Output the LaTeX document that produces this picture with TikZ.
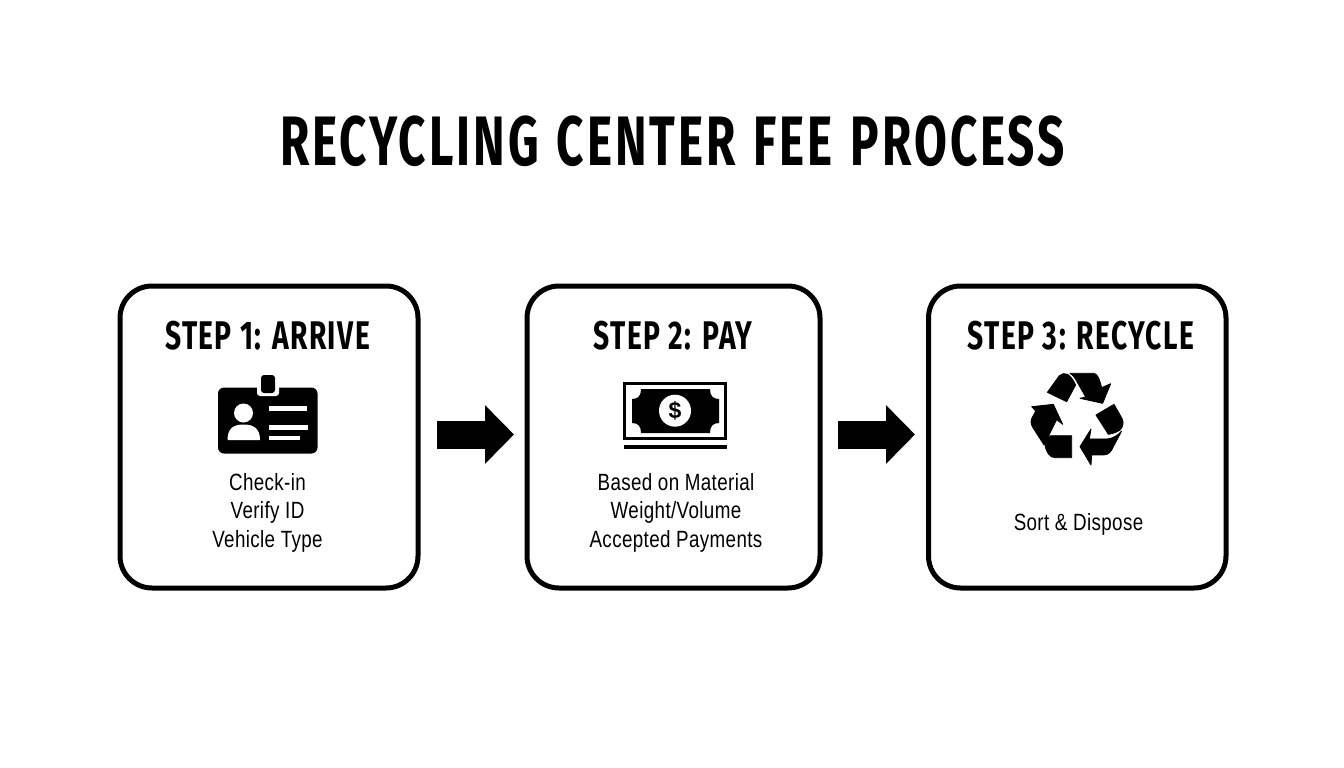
\documentclass[tikz,border=0pt]{standalone}
\usepackage{fontspec}
\setmainfont{Liberation Sans}
\newfontfamily\titlefont[FakeStretch=0.68,LetterSpace=4.3,WordSpace=1.25,UprightFont=* Bold]{Fira Sans}
\newfontfamily\stepfont[FakeStretch=0.705,LetterSpace=3.6,UprightFont=* Bold]{Fira Sans}
\newfontfamily\bodyfont[FakeStretch=0.80,LetterSpace=1.6]{Liberation Sans}
\usetikzlibrary{arrows.meta}
\tikzset{
  procbox/.style={draw=black,line width=5pt,rounded corners=32pt,fill=white,inner sep=0pt,outer sep=0pt,anchor=north west},
  maintitle/.style={font=\titlefont\fontsize{70}{70}\selectfont,inner sep=0pt,text=black},
  steptitle/.style={font=\stepfont\fontsize{40}{40}\selectfont,inner sep=0pt,text=black},
  bodytext/.style={font=\bodyfont\fontsize{23.5}{28.5}\selectfont,inner sep=0pt,align=center,text=black},
  flow/.style={line width=28pt,-{Triangle[length=29pt,width=57pt]},black},
  ink/.style={fill=black,draw=none},
  loop/.style={fill=black,draw=black,line width=0.8pt,line join=round},
  paper/.style={fill=white,draw=none}
}
\begin{document}
\begin{tikzpicture}[x=1pt,y=-1pt]
\useasboundingbox (0,0) rectangle (1344,768);
\fill[white] (0,0) rectangle (1344,768);
\node[maintitle] (title) at (672.5,141) {RECYCLING CENTER FEE PROCESS};
\node[procbox,minimum width=298pt,minimum height=302pt] (box1) at (120,286) {};
\node[procbox,minimum width=293pt,minimum height=302pt] (box2) at (527,286) {};
\node[procbox,minimum width=297.5pt,minimum height=302pt] (box3) at (928.5,286) {};
\node[steptitle] (s1) at (267.5,336) {STEP 1: ARRIVE};
\node[steptitle] (s2) at (673,336) {STEP 2: PAY};
\node[steptitle] (s3) at (1081,336) {STEP 3: RECYCLE};
\node[bodytext] (b1) at (267.5,512.5) {Check-in\\Verify ID\\Vehicle Type};
\node[bodytext] (b2) at (676,512.5) {Based on Material\\Weight/Volume\\Accepted Payments};
\node[bodytext] (b3) at (1078.5,524) {Sort \& Dispose};
\coordinate (a1s) at (437,434.5);
\coordinate (a1e) at (514,434.5);
\coordinate (a2s) at (838,434.5);
\coordinate (a2e) at (915,434.5);
\draw[flow] (a1s) -- (a1e);
\draw[flow] (a2s) -- (a2e);
% ID badge icon
\fill[ink,rounded corners=6pt] (218,387.5) rectangle (317.5,453.5);
\fill[paper,rounded corners=3pt] (257,380) rectangle (279,396);
\fill[ink,rounded corners=3pt] (261,375) rectangle (275,393);
\fill[paper] (243.5,413) circle (9.5);
\fill[paper] (227.5,440) .. controls (227.5,428) and (234,424.5) .. (243.5,424.5) .. controls (253,424.5) and (260,428) .. (260,440) -- cycle;
\fill[paper] (268.5,406) rectangle (307,410.5);
\fill[paper] (269,425) rectangle (307.5,429.5);
\fill[paper] (269,436) rectangle (300,440);
% money icon
\draw[black,line width=3.2pt] (624.6,383.6) rectangle (725.4,438.4);
\fill[ink] (623.5,445) rectangle (726.5,449);
\fill[ink] (641,389) -- (710,389) .. controls (710,396) and (713,399) .. (719,399)
  -- (719,423) .. controls (713,423) and (710,426) .. (710,433) -- (641,433)
  .. controls (641,426) and (638,423) .. (632,423) -- (632,399)
  .. controls (638,399) and (641,396) .. (641,389) -- cycle;
\fill[paper] (675,410.7) circle (16);
\node[font=\fontsize{23}{23}\selectfont\bfseries,inner sep=0pt] (dollar) at (675,410.5) {\$};
% recycling icon
\begin{scope}[shift={(1020,365)},x=0.3333pt,y=-0.3333pt]
\path[loop] (82,82) -- (118,32) .. controls (125,25) and (135,24) .. (143,28) .. controls (152,34) and (160,45) .. (167,60) -- (140,110) -- cycle;
\path[loop] (150,25) -- (222,25) .. controls (232,27) and (238,40) .. (245,68) -- (272,56) -- (248,115) -- (180,100) -- (197,96) -- (172,52) .. controls (165,38) and (158,30) .. (150,25) -- cycle;
\path[loop] (35,125) -- (100,118) -- (128,178) -- (110,164) -- (72,240) -- (40,190) .. controls (30,175) and (32,165) .. (38,155) -- (47,138) -- cycle;
\path[loop] (90,212) -- (155,212) -- (155,278) -- (105,278) .. controls (90,278) and (78,262) .. (75,240) .. controls (78,228) and (84,218) .. (90,212) -- cycle;
\path[loop] (180,245) -- (213,192) -- (208,222) -- (262,222) .. controls (280,220) and (295,210) .. (305,198) -- (275,255) .. controls (268,268) and (258,270) .. (245,270) -- (215,270) -- (213,300) -- cycle;
\path[loop] (228,150) -- (282,118) -- (306,160) .. controls (312,172) and (310,185) .. (300,195) .. controls (290,202) and (278,206) .. (265,208) -- cycle;
\end{scope}
\end{tikzpicture}
\end{document}
